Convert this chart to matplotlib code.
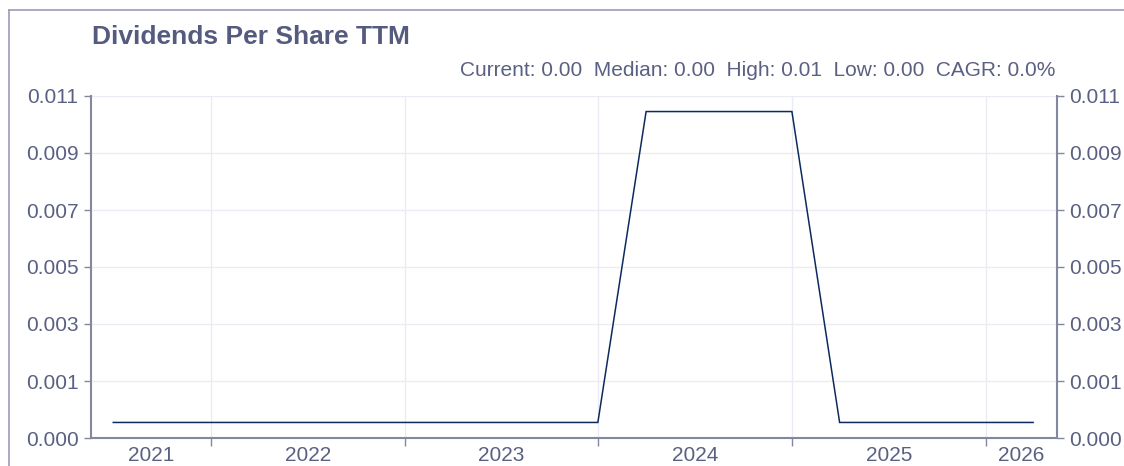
import matplotlib
matplotlib.use("Agg")
import matplotlib.pyplot as plt
import matplotlib.dates as mdates
from matplotlib.lines import Line2D
import datetime as dt

# Data
dates = ["2021-06-30", "2021-09-30", "2021-12-31", "2022-03-31", "2022-06-30",
         "2022-09-30", "2022-12-31", "2023-03-31", "2023-06-30", "2023-09-30",
         "2023-12-31", "2024-03-31", "2024-06-30", "2024-09-30", "2024-12-31",
         "2025-03-31", "2025-06-30", "2025-09-30", "2025-12-31", "2026-03-31"]
dps = [0.0005, 0.0005, 0.0005, 0.0005, 0.0005,
       0.0005, 0.0005, 0.0005, 0.0005, 0.0005,
       0.0005, 0.0105, 0.0105, 0.0105, 0.0105,
       0.0005, 0.0005, 0.0005, 0.0005, 0.0005]
years = [2021, 2022, 2023, 2024, 2025, 2026]
# evenly spaced tick values (0 .. 0.011 in 6 steps), labels truncated as shown
y_ticks = [0.0, 0.001833, 0.003667, 0.0055, 0.007333, 0.009167, 0.011]
y_tick_labels = ["0.000", "0.001", "0.003", "0.005", "0.007", "0.009", "0.011"]
title = "Dividends Per Share TTM"
stats = "Current: 0.00  Median: 0.00  High: 0.01  Low: 0.00  CAGR: 0.0%"

plt.rcParams['font.family'] = ['Liberation Sans', 'DejaVu Sans']

TEXT = "#5a6082"
SPINE = "#84889f"
GRID = "#ebebf3"
LINE = "#0d2a5e"

fig = plt.figure(figsize=(11.24, 4.66), dpi=100)
ax = fig.add_axes([91/1124, 1-438/466, (1057-91)/1124, (438-96)/466])

x = [dt.datetime.strptime(d, "%Y-%m-%d") for d in dates]
ax.plot(x, dps, color=LINE, lw=1.1, solid_joinstyle='miter')

xmin = dt.datetime(2021, 5, 19)
xmax = dt.datetime(2026, 5, 15)
ax.set_xlim(xmin, xmax)
ax.set_ylim(0, 0.011)

# year boundary ticks
bounds = [dt.datetime(y, 1, 1) for y in years[1:]]
ax.set_xticks(bounds)
ax.set_xticklabels([])
# labels centered in the visible part of each year
lo = mdates.date2num(xmin); hi = mdates.date2num(xmax)
mids = []
for y in years:
    a = max(mdates.date2num(dt.datetime(y, 1, 1)), lo)
    b = min(mdates.date2num(dt.datetime(y + 1, 1, 1)), hi)
    mids.append((a + b) / 2)
ax.set_xticks(mids, minor=True)
ax.set_xticklabels([str(y) for y in years], minor=True)
ax.tick_params(axis='x', which='minor', length=0, pad=6, labelsize=15, labelcolor=TEXT)
ax.tick_params(axis='x', which='major', length=6, width=1, color=SPINE)

ax.set_yticks(y_ticks)
ax.set_yticklabels(y_tick_labels)
ax.tick_params(axis='y', which='major', length=5, width=1, color=SPINE,
               labelsize=15, labelcolor=TEXT, left=True, right=True,
               labelleft=True, labelright=True, pad=4)

ax.grid(True, which='major', color=GRID, lw=1)
ax.set_axisbelow(True)
ax.spines['top'].set_visible(False)
for s in ['left', 'right', 'bottom']:
    ax.spines[s].set_color(SPINE)
    ax.spines[s].set_linewidth(1.5)

fig.text(92/1124, 1-37/466, title, fontsize=19, fontweight='bold', color="#545b7e",
         va='center', ha='left')
fig.text(1055/1124, 1-71/466, stats, fontsize=15, color=TEXT, va='center', ha='right')

# figure frame (left and top)
fig.add_artist(Line2D([8.5/1124, 8.5/1124], [0, 1-9.5/466], transform=fig.transFigure,
                      color="#9a9cb8", lw=1.2))
fig.add_artist(Line2D([8.5/1124, 1], [1-9.5/466, 1-9.5/466], transform=fig.transFigure,
                      color="#9a9cb8", lw=1.2))

fig.savefig("out.png", dpi=100)
